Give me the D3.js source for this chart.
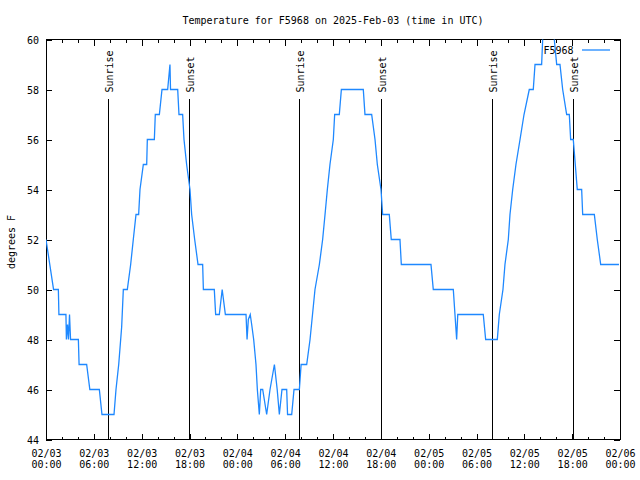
<!DOCTYPE html>
<html><head><meta charset="utf-8">
<script src="https://cdn.jsdelivr.net/npm/d3@7"></script>
<style>
body{margin:0;background:#fff;}
text{font-family:"DejaVu Sans Mono",monospace;font-size:10px;fill:#000;}
</style></head>
<body>
<svg id="c" width="640" height="480"></svg>
<script>
// ---- data (hours since 02/03 00:00 UTC, temperature °F) ----
const hours = [0,0.95,1.55,1.62,2.5,2.56,2.7,2.82,2.95,3.08,4.06,4.15,5.1,5.5,6.69,7.02,8.53,8.78,9.12,9.49,9.7,10.2,10.62,10.95,11.29,11.62,11.79,12.21,12.63,12.71,13.59,13.71,14.22,14.55,15.26,15.55,15.62,16.52,16.68,17.14,17.31,17.64,18.06,18.27,18.65,19.07,19.65,19.74,21.11,21.28,21.74,22.1,22.5,25.09,25.22,25.38,25.62,25.8,26.05,26.34,26.51,26.76,26.93,27.18,27.68,28.1,28.65,29.0,29.27,29.6,30.19,30.3,30.82,31.11,31.78,32.0,32.7,33.12,33.74,34.29,34.7,35.0,35.29,35.62,36.04,36.21,36.79,37.05,39.8,40.01,40.85,41.27,41.56,42.02,42.23,43.06,43.31,44.4,44.57,48.29,48.58,51.09,51.3,51.51,51.65,54.85,55.15,56.61,56.86,57.32,57.57,57.99,58.2,58.54,58.95,59.46,59.96,60.62,61.12,61.34,62.17,62.3,62.6,63.4,63.76,64.06,64.47,64.81,65.31,65.64,65.81,66.14,66.64,67.19,67.32,68.78,69.15,69.58,71.87];
const temps = [52,50,50,49,49,48,48.6,48,49,48,48,47,47,46,46,45,45,46,47,48.5,50,50,51,52,53,53,54,55,55,56,56,57,57,58,58,59,58,58,57,57,56,55,54,53,52,51,51,50,50,49,49,50,49,49,48,48.8,49,48.6,48,47,46,45,46,46,45,46,47,46,45,46,46,45,45,46,46,47,47,48,50,51,52,53,54,55,56,57,57,58,58,57,57,56,55,54,53,53,52,52,51,51,50,50,49,48,49,49,48,48,49,50,51,52,53,54,55,56,57,58,58,59,59,60,61,61,60,59,59,58,57,57,56,56,54,54,53,53,52,51,51];
const sunriseHours = [7.81, 31.77, 55.91];
const sunsetHours = [17.94, 42.02, 66.14];
const majorTickHours = [0,6,12,18,24,30,36,42,48,54,60,66,72];
const minorTickHours = d3.range(0,73,2).filter(h => h % 6 !== 0);
const tickDates = ["02/03","02/03","02/03","02/03","02/04","02/04","02/04","02/04","02/05","02/05","02/05","02/05","02/06"];
const tickTimes = ["00:00","06:00","12:00","18:00","00:00","06:00","12:00","18:00","00:00","06:00","12:00","18:00","00:00"];
const yTicks = [44,46,48,50,52,54,56,58,60];
const seriesName = "F5968";
const titleText = "Temperature for F5968 on 2025-Feb-03 (time in UTC)";
const yLabel = "degrees F";

// ---- layout ----
const L = 46, R = 620, T = 39.5, B = 439.5;
const svg = d3.select("#c");
const x = d3.scaleLinear().domain([0,72]).range([L,R]);
const y = d3.scaleLinear().domain([44,60]).range([B,T]);

svg.append("defs").append("clipPath").attr("id","clip")
  .append("rect").attr("x",L).attr("y",T).attr("width",R-L).attr("height",B-T);

function styleAxis(g){
  g.select(".domain").remove();
  g.attr("font-family",null).attr("font-size",null);
  g.selectAll(".tick line").attr("stroke","#000").attr("shape-rendering","crispEdges");
}
// bottom axis
const gxb = svg.append("g").attr("transform",`translate(0,${B})`)
  .call(d3.axisBottom(x).tickValues(majorTickHours).tickSize(-6).tickFormat((d,i)=>""));
styleAxis(gxb);
gxb.selectAll(".tick text").each(function(d,i){
  const t = d3.select(this).attr("y",null).attr("dy",null);
  t.append("tspan").attr("x",0).attr("y",17.5).text(tickDates[i]);
  t.append("tspan").attr("x",0).attr("y",28.5).text(tickTimes[i]);
});
const gxbm = svg.append("g").attr("transform",`translate(0,${B})`)
  .call(d3.axisBottom(x).tickValues(minorTickHours).tickSize(-3).tickFormat(""));
styleAxis(gxbm);
// top mirror ticks
const gxt = svg.append("g").attr("transform",`translate(0,${T})`)
  .call(d3.axisTop(x).tickValues(majorTickHours).tickSize(-6).tickFormat(""));
styleAxis(gxt);
const gxtm = svg.append("g").attr("transform",`translate(0,${T})`)
  .call(d3.axisTop(x).tickValues(minorTickHours).tickSize(-3).tickFormat(""));
styleAxis(gxtm);
// left axis
const gyl = svg.append("g").attr("transform",`translate(${L},0)`)
  .call(d3.axisLeft(y).tickValues(yTicks).tickSize(-6).tickPadding(7).tickFormat(d3.format("d")));
styleAxis(gyl);
gyl.selectAll(".tick text").attr("dy","0.35em");
// right mirror
const gyr = svg.append("g").attr("transform",`translate(${R},0)`)
  .call(d3.axisRight(y).tickValues(yTicks).tickSize(-6).tickFormat(""));
styleAxis(gyr);

// border
svg.append("rect").attr("x",L+0.5).attr("y",T).attr("width",R-L).attr("height",B-T)
  .attr("fill","none").attr("stroke","#000").attr("stroke-width",1).attr("shape-rendering","crispEdges");

// sunrise / sunset markers
const marks = sunriseHours.map(h=>({h,label:"Sunrise"})).concat(sunsetHours.map(h=>({h,label:"Sunset"})));
const mg = svg.append("g");
marks.forEach(m=>{
  const px = Math.round(x(m.h))+0.5;
  mg.append("line").attr("x1",px).attr("x2",px).attr("y1",99).attr("y2",B)
    .attr("stroke","#000").attr("stroke-width",1).attr("shape-rendering","crispEdges");
  mg.append("text").attr("transform",`translate(${px+4},92.5) rotate(-90)`)
    .attr("text-anchor","start").text(m.label);
});

// data line
const pts = hours.map((h,i)=>[h,temps[i]]);
svg.append("path").datum(pts).attr("clip-path","url(#clip)")
  .attr("fill","none").attr("stroke","#1e88ff").attr("stroke-width",1.3)
  .attr("stroke-linejoin","miter")
  .attr("d",d3.line().x(d=>x(d[0])).y(d=>y(d[1])));

// legend
svg.append("text").attr("x",573.5).attr("y",53.5).attr("text-anchor","end").text(seriesName);
svg.append("line").attr("x1",582).attr("x2",610).attr("y1",50).attr("y2",50)
  .attr("stroke","#1e88ff").attr("stroke-width",1.3);

// title and y label
svg.append("text").attr("x",(L+R)/2).attr("y",24).attr("text-anchor","middle").text(titleText);
svg.append("text").attr("transform","translate(15,242) rotate(-90)").attr("text-anchor","middle").text(yLabel);
</script>
</body></html>
